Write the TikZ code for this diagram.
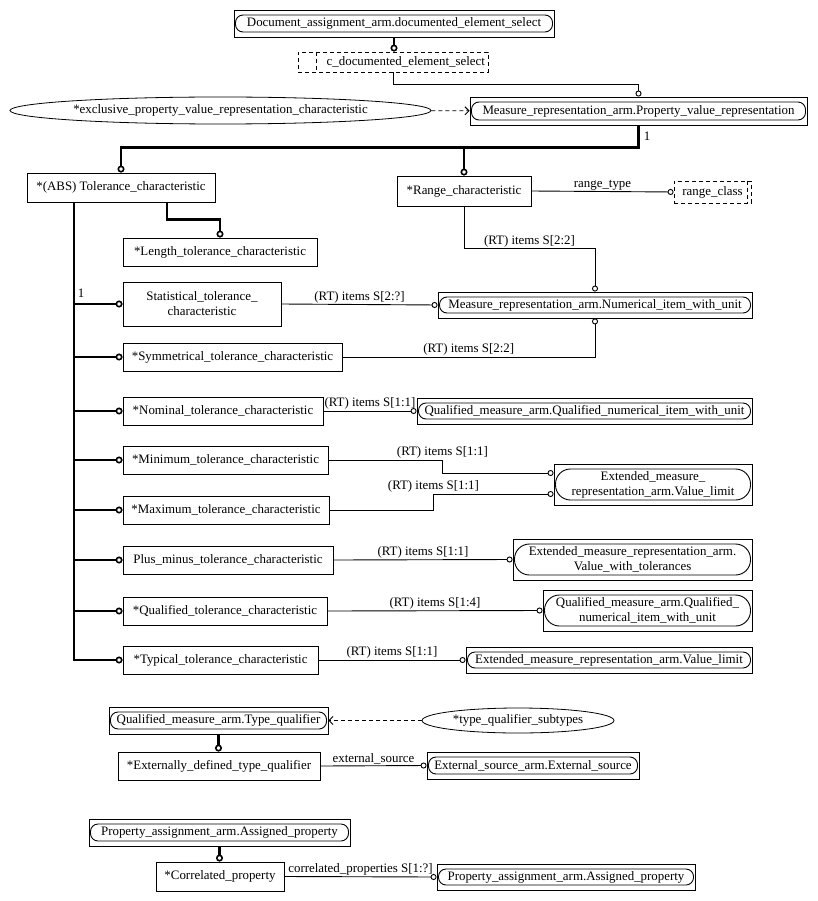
\documentclass[tikz,border=0pt]{standalone}
\usepackage{fontspec}
\setmainfont{Liberation Serif}
\usetikzlibrary{arrows.meta,shapes.geometric}

\begin{document}
\begin{tikzpicture}[x=1pt, y=-1pt]
		\tikzset{
			every node/.style={
				font=\fontsize{12.9}{15}\selectfont,
				inner sep=0pt,
				align=center
			},
			entity/.style={
				draw,
				rectangle,
				line width=0.9pt
			},
			refent/.style={
				entity,
				path picture={
					\draw[line width=0.9pt, rounded corners=#1]
						([shift={(1.5pt,5pt)}]path picture bounding box.south west) rectangle
						([shift={(-1.5pt,-5pt)}]path picture bounding box.north east);
				}
			},
			refent/.default=7.5pt,
			typebox/.style={
				draw,
				rectangle,
				line width=0.9pt,
				dash pattern=on 4pt off 3pt
			},
			rulebox/.style={
				draw,
				ellipse,
				line width=0.8pt
			},
			lbl/.style={
				inner sep=1pt
			},
			thickline/.style={
				line width=2.8pt
			},
			sub/.style={
				thickline,
				-{Circle[open, length=7pt, line width=1.6pt]}
			},
			attr/.style={
				line width=0.9pt,
				-{Circle[open, length=6pt, line width=0.9pt]}
			},
			dasharrow/.style={
				line width=0.9pt,
				dash pattern=on 4pt off 3pt,
				-{Straight Barb[length=4pt, width=8pt, line width=0.9pt]}
			}
		}

		\useasboundingbox (0,0) rectangle (817,901);

		% top part
		\node[refent, minimum width=320, minimum height=27] (doc) at (394, 23.5)
			{Document\_assignment\_arm.documented\_element\_select};
		\node[typebox, text width=184pt, align=right, inner xsep=3pt, minimum height=20] (cdoc) at (393, 62)
			{c\_documented\_element\_select};
		\node[rulebox, minimum width=421, minimum height=27] (excl) at (220.5, 110.5)
			{*exclusive\_property\_value\_representation\_characteristic};
		\node[refent, minimum width=337, minimum height=28] (pvr) at (638.5, 111)
			{Measure\_representation\_arm.Property\_value\_representation};

		\node[entity, minimum width=188, minimum height=29] (tol) at (121, 187.5)
			{*(ABS) Tolerance\_characteristic};
		\node[entity, minimum width=134, minimum height=30] (rng) at (464, 191)
			{*Range\_characteristic};
		\node[typebox, minimum width=77, minimum height=22] (rcls) at (712.5, 192)
			{range\_class};
		\node[entity, minimum width=194, minimum height=28] (len) at (220, 252)
			{*Length\_tolerance\_characteristic};

		% subtypes of the tolerance
		\node[entity, minimum width=158, minimum height=44] (stat) at (202, 304)
			{Statistical\_tolerance\_\\characteristic};
		\node[entity, minimum width=219, minimum height=28] (sym) at (232.5, 357)
			{*Symmetrical\_tolerance\_characteristic};
		\node[entity, minimum width=200, minimum height=28] (nom) at (223, 411)
			{*Nominal\_tolerance\_characteristic};
		\node[entity, minimum width=205, minimum height=28] (min) at (225.5, 460)
			{*Minimum\_tolerance\_characteristic};
		\node[entity, minimum width=206, minimum height=28] (max) at (226, 510)
			{*Maximum\_tolerance\_characteristic};
		\node[entity, minimum width=210, minimum height=28] (pm) at (228, 560)
			{Plus\_minus\_tolerance\_characteristic};
		\node[entity, minimum width=204, minimum height=28] (qual) at (225, 611)
			{*Qualified\_tolerance\_characteristic};
		\node[entity, minimum width=195, minimum height=28] (typ) at (220.5, 660)
			{*Typical\_tolerance\_characteristic};

		% referenced items
		\node[refent, minimum width=314, minimum height=26] (num) at (595, 305)
			{Measure\_representation\_arm.Numerical\_item\_with\_unit};
		\node[refent, minimum width=335, minimum height=26] (qni) at (584.5, 411)
			{Qualified\_measure\_arm.Qualified\_numerical\_item\_with\_unit};
		\node[refent=15pt, minimum width=198, minimum height=41] (vl) at (653, 484.5)
			{Extended\_measure\_\\representation\_arm.Value\_limit};
		\node[refent=15pt, minimum width=239, minimum height=41] (vwt) at (632.5, 559.5)
			{Extended\_measure\_representation\_arm.\\Value\_with\_tolerances};
		\node[refent=15pt, minimum width=209, minimum height=41] (qni2) at (647.5, 610.5)
			{Qualified\_measure\_arm.Qualified\_\\numerical\_item\_with\_unit};
		\node[refent, minimum width=286, minimum height=26] (vl2) at (609, 660)
			{Extended\_measure\_representation\_arm.Value\_limit};

		% type qualifier
		\node[refent, minimum width=219, minimum height=27] (tq) at (218.5, 720.5)
			{Qualified\_measure\_arm.Type\_qualifier};
		\node[rulebox, minimum width=192, minimum height=25] (tqs) at (518, 720.5)
			{*type\_qualifier\_subtypes};
		\node[entity, minimum width=202, minimum height=28] (edtq) at (219, 766)
			{*Externally\_defined\_type\_qualifier};
		\node[refent, minimum width=212, minimum height=27] (ext) at (533, 765.5)
			{External\_source\_arm.External\_source};

		% correlated property
		\node[refent, minimum width=261, minimum height=27] (pa) at (219.5, 832.5)
			{Property\_assignment\_arm.Assigned\_property};
		\node[entity, minimum width=128, minimum height=29] (cor) at (220, 876.5)
			{*Correlated\_property};
		\node[refent, minimum width=258, minimum height=26] (pa2) at (566, 877)
			{Property\_assignment\_arm.Assigned\_property};

		% double bars of the select and the enumeration
		\draw[line width=0.9pt, dash pattern=on 4pt off 3pt] ([xshift=19pt]cdoc.north west) -- ([xshift=19pt]cdoc.south west);
		\draw[line width=0.9pt, dash pattern=on 4pt off 3pt] ([xshift=-4pt]rcls.north east) -- ([xshift=-4pt]rcls.south east);

		\draw[sub] (doc.south) -- (doc.south |- cdoc.north);
		\draw[attr] (cdoc.south) -- ++(0,12) -| (pvr.north);
		\draw[dasharrow] (excl) -- (pvr);

		\draw[sub] (pvr.south) -- node[lbl, right, xshift=3pt] {1} ++(0,22) coordinate (j1) -| (tol.north);
		\draw[sub] (j1) -| (rng.north);
		\draw[sub] ([xshift=46pt]tol.south) -- ++(0,17) -| (len.north);

		\coordinate (t0) at ([xshift=-47pt]tol.south);
		\draw[sub] (t0) |- (typ.west);
		\foreach \n in {stat,sym,nom,min,max,pm,qual}
			\draw[sub] (t0 |- \n.west) -- (\n.west);
		\node[lbl] (one) at (81, 293) {1};

		\draw[attr] (rng.east) -- node[lbl, above] {range\_type} (rcls.west);
		\draw[attr] (rng.south) -- ++(0,42) -| node[lbl, above, pos=0.25] {(RT) items S[2:2]} (num.north);
		\draw[attr] (stat.east) -- node[lbl, above] {(RT) items S[2:?]} (num.west);
		\draw[attr] (sym.east) -| node[lbl, above, pos=0.25] {(RT) items S[2:2]} (num.south);
		\draw[attr] (nom.east) -- node[lbl, above] {(RT) items S[1:1]} (qni.west);
		\draw[attr] (min.east) -- ++(114,0) node[lbl, above] {(RT) items S[1:1]} |- ([yshift=11.5pt]vl.west);
		\draw[attr] (max.east) -- ++(104,0) |- node[lbl, above, pos=0.5] {(RT) items S[1:1]} ([yshift=-9.5pt]vl.west);
		\draw[attr] (pm.east) -- node[lbl, above] {(RT) items S[1:1]} (vwt.west);
		\draw[attr] (qual.east) -- node[lbl, above] {(RT) items S[1:4]} (qni2.west);
		\draw[attr] (typ.east) -- node[lbl, above] {(RT) items S[1:1]} (vl2.west);

		\draw[dasharrow] (tqs) -- (tq);
		\draw[sub] (tq.south) -- (tq.south |- edtq.north);
		\draw[attr] (edtq.east) -- node[lbl, above] {external\_source} (ext.west);

		\draw[sub] (pa.south) -- (pa.south |- cor.north);
		\draw[attr] (cor.east) -- node[lbl, above] {correlated\_properties S[1:?]} (pa2.west);

	\end{tikzpicture}
\end{document}
